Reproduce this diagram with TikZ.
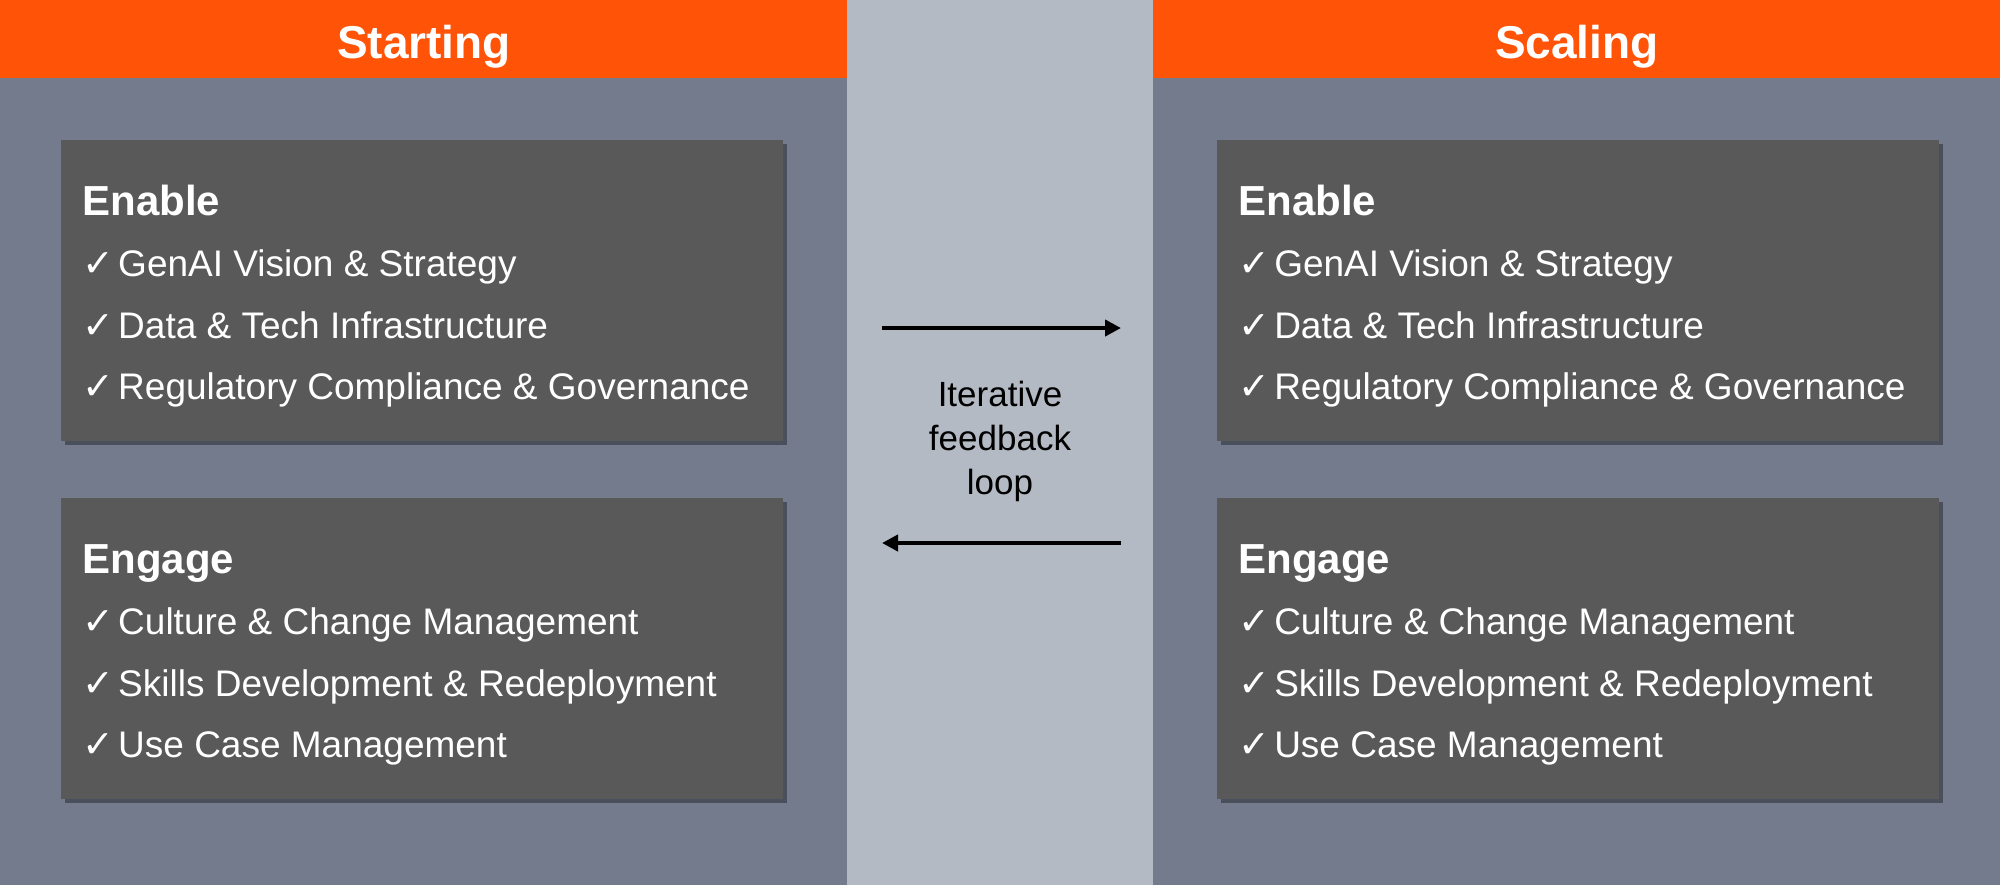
\documentclass[tikz,border=0pt]{standalone}
\usepackage{fontspec}
\setmainfont{Liberation Sans}
\newfontfamily\symfont{DejaVu Sans}
\usetikzlibrary{
  	positioning,
  	arrows.meta,
  	calc,
  	shadows
  }
\definecolor{hdrorange}{HTML}{FF5308}
\definecolor{panelgray}{HTML}{737B8C}
\definecolor{stripgray}{HTML}{B4BAC3}
\definecolor{cardgray}{HTML}{595959}
\newcommand{\chk}{{\symfont\fontsize{19}{19}\selectfont ✓}\hspace{2pt}}
\tikzset{
  panel/.style={fill=panelgray, inner sep=0pt, anchor=north west, minimum width=423.5pt, minimum height=442.5pt},
  header/.style={fill=hdrorange, inner sep=0pt, anchor=north west, minimum width=423.5pt, minimum height=39pt},
  headtext/.style={text=white, inner sep=0pt, anchor=base, font=\bfseries\fontsize{23}{28}\selectfont},
  card/.style={fill=cardgray, inner sep=0pt, anchor=north west, minimum width=361pt, minimum height=150.5pt,
    drop shadow={shadow xshift=2pt, shadow yshift=-2pt, opacity=.35, fill=black}},
  cardtitle/.style={text=white, inner sep=0pt, anchor=base west, font=\bfseries\fontsize{21}{25}\selectfont},
  cardtext/.style={text=white, inner sep=0pt, anchor=base west, font=\fontsize{18.5}{22}\selectfont},
  looptext/.style={text=black, inner sep=0pt, align=center, font=\fontsize{17.5}{22}\selectfont},
  looparrow/.style={line width=2pt, -{Triangle[length=8pt, width=8pt]}}
}

\begin{document}
\begin{tikzpicture}[x=0.5pt, y=-0.5pt]
	\useasboundingbox (0,0) rectangle (2000,885);
	\fill[stripgray] (0,0) rectangle (2000,885);
	\foreach \px/\bx/\phase/\pn in {0/61/Starting/L, 1153/64/Scaling/R} {
		\node[panel] (panel\pn) at (\px,0) {};
		\node[header] (head\pn) at (\px,0) {};
		\node[headtext] (headlab\pn) at ($(head\pn.north)+(0,58)$) {\phase};
		% enable card
		\node[card] (enable\pn) at ($(panel\pn.north west)+(\bx,140)$) {};
		\node[cardtitle] (enabletitle\pn) at ($(enable\pn.north west)+(21,75)$) {Enable};
		\foreach \i/\txt in {1/GenAI Vision \& Strategy, 2/Data \& Tech Infrastructure, 3/Regulatory Compliance \& Governance}
			\node[cardtext] (enableitem\pn\i) at ($(enable\pn.north west)+(21,75+61.5*\i)$) {\chk\txt};
		% engage card
		\node[card] (engage\pn) at ($(panel\pn.north west)+(\bx,498)$) {};
		\node[cardtitle] (engagetitle\pn) at ($(engage\pn.north west)+(21,75)$) {Engage};
		\foreach \i/\txt in {1/Culture \& Change Management, 2/Skills Development \& Redeployment, 3/Use Case Management}
			\node[cardtext] (engageitem\pn\i) at ($(engage\pn.north west)+(21,75+61.5*\i)$) {\chk\txt};
	}
%
	\coordinate (fwdstart) at (882,328);
	\coordinate (fwdend) at (1121,328);
	\coordinate (backstart) at (1121,543);
	\coordinate (backend) at (882,543);
	\draw[looparrow] (fwdstart) -- (fwdend);
	\draw[looparrow] (backstart) -- (backend);
	\node[looptext, anchor=north] (looplab) at (1000,381) {Iterative\\feedback\\loop};
\end{tikzpicture}
\end{document}
